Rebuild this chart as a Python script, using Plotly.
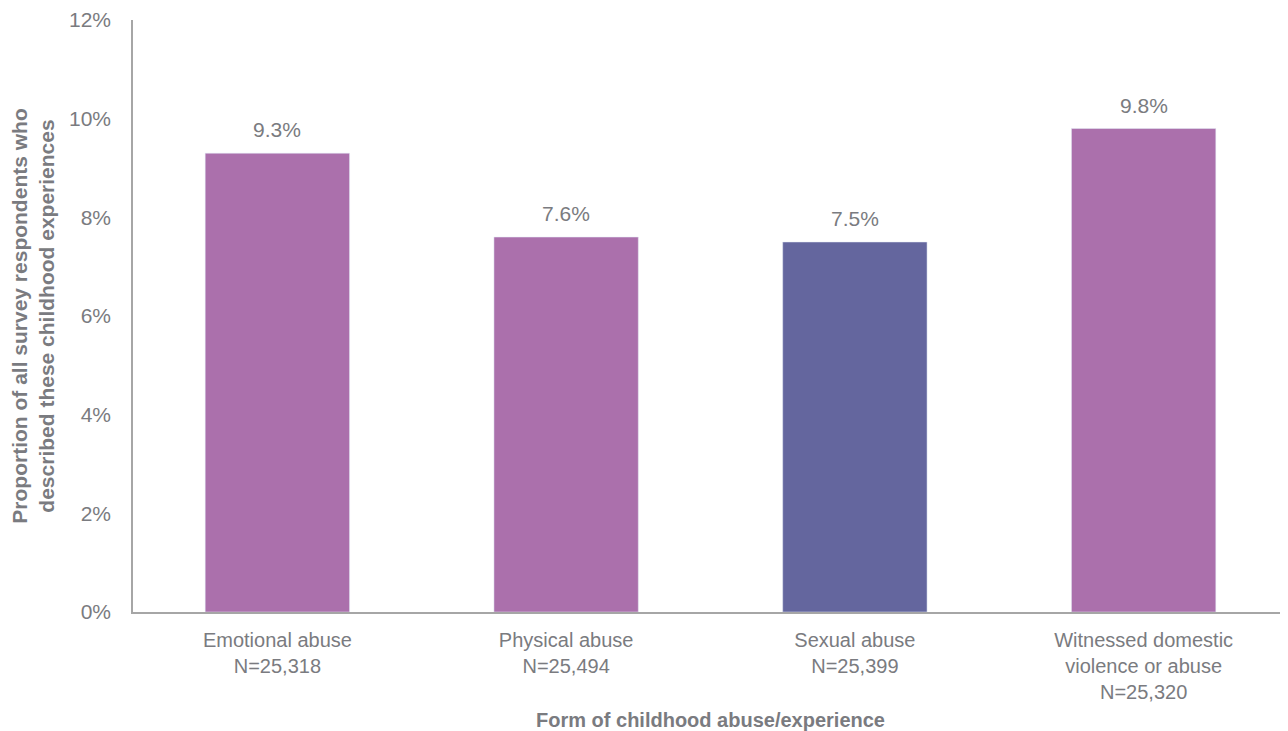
import plotly.graph_objects as go

categories = ["Emotional abuse<br>N=25,318", "Physical abuse<br>N=25,494",
              "Sexual abuse<br>N=25,399", "Witnessed domestic<br>violence or abuse<br>N=25,320"]
values = [9.3, 7.6, 7.5, 9.8]
labels = ["9.3%", "7.6%", "7.5%", "9.8%"]
colors = ["#AB70AC", "#AB70AC", "#64669E", "#AB70AC"]
tick_vals = [0, 2, 4, 6, 8, 10, 12]
tick_text = ["0%", "2%", "4%", "6%", "8%", "10%", "12%"]

GRAY = "#7a7b80"
FONT = "Liberation Sans, Arial, sans-serif"

fig = go.Figure(go.Bar(x=categories, y=values, marker_color=colors, width=0.5,
                       hoverinfo="skip"))

for c, v, t in zip(categories, values, labels):
    fig.add_annotation(x=c, y=v, text=t, showarrow=False, yanchor="bottom",
                       yshift=10, font=dict(size=21, color=GRAY, family=FONT))

fig.update_layout(
    width=1280, height=723,
    margin=dict(l=125, r=0, t=12, b=119),
    paper_bgcolor="white", plot_bgcolor="white",
    font=dict(family=FONT, color=GRAY, size=20),
    showlegend=False,
    xaxis=dict(showline=True, linecolor="#a6a6a6", linewidth=1.5, showgrid=False,
               ticks="", tickfont=dict(size=20, color=GRAY), ticklabelstandoff=9,
               title=dict(text="<b>Form of childhood abuse/experience</b>",
                          font=dict(size=20, color=GRAY), standoff=12)),
    yaxis=dict(range=[0, 12], tickvals=tick_vals, ticktext=tick_text,
               showline=True, linecolor="#a6a6a6", linewidth=1.5, showgrid=False,
               zeroline=False, ticks="", tickfont=dict(size=21, color=GRAY),
               ticklabelstandoff=16,
               title=dict(text="<b>Proportion of all survey respondents who<br>described these childhood experiences</b>",
                          font=dict(size=21, color=GRAY), standoff=12)),
)

fig.write_html("out.html")
